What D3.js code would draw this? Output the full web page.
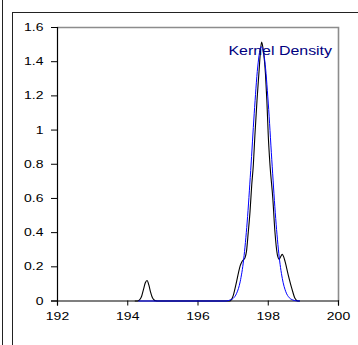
<!DOCTYPE html>
<html>
<head>
<meta charset="utf-8">
<script src="https://cdn.jsdelivr.net/npm/d3@7"></script>
<style>
  html, body { margin: 0; padding: 0; background: #fff; }
  svg { display: block; }
  text { font-family: "Liberation Sans", Arial, sans-serif; }
</style>
</head>
<body>
<svg id="chart" width="358" height="345"></svg>
<script>
// Axis ticks
const xTicks = [192, 194, 196, 198, 200];
const yTicks = [0, 0.2, 0.4, 0.6, 0.8, 1, 1.2, 1.4, 1.6];

// Kernel density estimate (black)
const kdeX = [194.2, 194.25, 194.3, 194.35, 194.4, 194.45, 194.5, 194.55, 194.6, 194.65, 194.7, 194.75, 194.8, 194.85,
  196.9, 196.95, 197.0, 197.05, 197.1, 197.15, 197.2, 197.25, 197.3, 197.34, 197.38, 197.43, 197.48, 197.53, 197.575,
  197.62, 197.68, 197.74, 197.77, 197.81, 197.85, 197.89, 197.92, 197.96, 198.0, 198.05, 198.13, 198.19, 198.26,
  198.31, 198.36, 198.4, 198.44, 198.48, 198.57, 198.67, 198.76, 198.84, 198.9];
const kdeY = [0, 0, 0.002, 0.01, 0.031, 0.069, 0.107, 0.12, 0.094, 0.052, 0.02, 0.006, 0.001, 0,
  0, 0.008, 0.03, 0.07, 0.115, 0.163, 0.205, 0.23, 0.242, 0.254, 0.29, 0.40, 0.52, 0.68, 0.795,
  0.97, 1.175, 1.35, 1.44, 1.515, 1.48, 1.41, 1.33, 1.175, 0.97, 0.795, 0.60, 0.405, 0.27,
  0.245, 0.262, 0.273, 0.258, 0.23, 0.152, 0.074, 0.016, 0, 0];

// Normal density (blue)
const normX = [194.3, 196.8, 196.9, 197.0, 197.1, 197.2, 197.3, 197.4, 197.5, 197.6, 197.7, 197.8, 197.9,
  198.0, 198.1, 198.2, 198.3, 198.4, 198.5, 198.6, 198.7, 198.8, 198.9];
const normY = [0, 0, 0.005, 0.015, 0.045, 0.112, 0.243, 0.462, 0.763, 1.095, 1.369, 1.488, 1.407,
  1.158, 0.829, 0.516, 0.279, 0.132, 0.054, 0.019, 0.006, 0.001, 0];

const legendLabel = "Kernel Density";

const svg = d3.select("#chart");
const W = 358, H = 345;
const stretch = 1.27;

svg.append("rect").attr("width", W).attr("height", H).attr("fill", "#fff");

// outer frame lines
svg.append("line").attr("x1", 2.5).attr("x2", 2.5).attr("y1", 0).attr("y2", H)
  .attr("stroke", "#222").attr("stroke-width", 1);
svg.append("line").attr("x1", 12.5).attr("x2", 12.5).attr("y1", 12).attr("y2", H)
  .attr("stroke", "#222").attr("stroke-width", 1);
svg.append("line").attr("x1", 12).attr("x2", W).attr("y1", 12.5).attr("y2", 12.5)
  .attr("stroke", "#222").attr("stroke-width", 1);

const x = d3.scaleLinear().domain([192, 200]).range([57, 338]);
const y = d3.scaleLinear().domain([0, 1.6]).range([300.5, 27]);

// plot area top/right border
svg.append("path")
  .attr("d", `M${x(192)},${y(1.6) + 0.5}H${x(200) + 0.5}V${y(0) + 0.5}`)
  .attr("fill", "none").attr("stroke", "#8c8c8c").attr("stroke-width", 1.6);

// y axis
const yAxis = svg.append("g")
  .attr("transform", `translate(${x(192)},0)`)
  .call(d3.axisLeft(y).tickValues(yTicks).tickFormat(d3.format("")).tickSizeOuter(0).tickSize(6).tickPadding(5));
yAxis.selectAll("text")
  .attr("x", -13.5 / stretch)
  .attr("transform", `scale(${stretch},1)`)
  .attr("font-size", 11).attr("font-family", "Liberation Sans, Arial, sans-serif").attr("fill", "#000");

// x axis
const xAxis = svg.append("g")
  .attr("transform", `translate(0,${y(0)})`)
  .call(d3.axisBottom(x).tickValues(xTicks).tickFormat(d3.format("d")).tickSizeOuter(0).tickSize(5).tickPadding(7));
xAxis.selectAll("text")
  .attr("transform", `scale(${stretch},1)`)
  .attr("x", 0)
  .attr("font-size", 11).attr("font-family", "Liberation Sans, Arial, sans-serif").attr("fill", "#000");

[yAxis, xAxis].forEach(g => {
  g.select(".domain").attr("stroke", "#000").attr("stroke-width", 1.2);
  g.selectAll(".tick line").attr("stroke", "#000");
});

const line = d3.line()
  .x(d => x(d[0]) + 0.5)
  .y(d => y(d[1]) + 0.5)
  .curve(d3.curveMonotoneX);

svg.append("path")
  .datum(kdeX.map((v, i) => [v, kdeY[i]]))
  .attr("d", line)
  .attr("fill", "none").attr("stroke", "#000").attr("stroke-width", 1.1);

svg.append("path")
  .datum(normX.map((v, i) => [v, normY[i]]))
  .attr("d", line)
  .attr("fill", "none").attr("stroke", "#0000ff").attr("stroke-width", 1);

// legend label
svg.append("g")
  .attr("transform", `translate(332,55) scale(1.18,1)`)
  .append("text")
  .attr("text-anchor", "end")
  .attr("font-size", 13.5)
  .attr("fill", "#000080")
  .text(legendLabel);
</script>
</body>
</html>
